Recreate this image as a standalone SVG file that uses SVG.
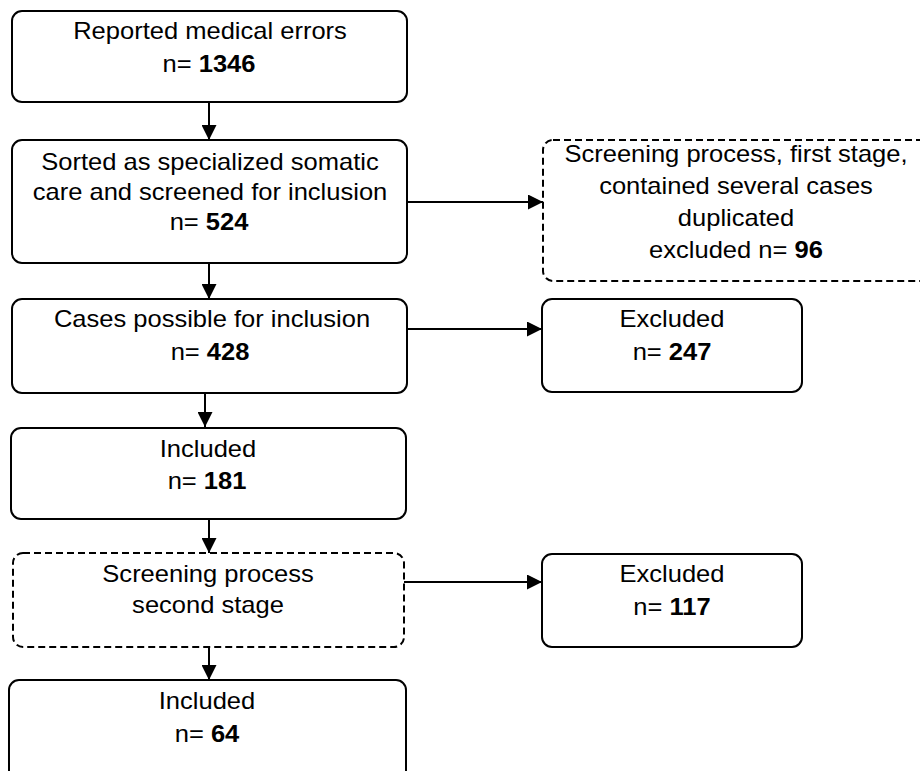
<svg xmlns="http://www.w3.org/2000/svg" width="920" height="771" viewBox="0 0 920 771">
<style>
.box{fill:#fff;stroke:#000;stroke-width:2}
.dash{fill:#fff;stroke:#000;stroke-width:2;stroke-dasharray:7 4}
.t{font-family:"Liberation Sans",Arial,sans-serif;font-size:23px;fill:#000;text-anchor:middle}
.b{font-weight:bold}
.con{stroke:#000;stroke-width:2;fill:none;marker-end:url(#ah)}
</style>
<defs>
<marker id="ah" viewBox="0 0 15 15" refX="15" refY="7.5" markerWidth="15" markerHeight="15" markerUnits="userSpaceOnUse" orient="auto">
<path d="M0,0 L15,7.5 L0,15 Z" fill="#000"/>
</marker>
</defs>
<rect width="920" height="771" fill="#fff"/>
<g id="connectors">
<line class="con" x1="209" y1="102" x2="209" y2="140"/>
<line class="con" x1="209" y1="263" x2="209" y2="299"/>
<line class="con" x1="205" y1="393" x2="205" y2="427"/>
<line class="con" x1="209" y1="519" x2="209" y2="553"/>
<line class="con" x1="209" y1="647" x2="209" y2="680"/>
<line class="con" x1="407" y1="202" x2="543" y2="202"/>
<line class="con" x1="407" y1="329" x2="542" y2="329"/>
<line class="con" x1="404" y1="582" x2="542" y2="582"/>
</g>
<g id="n1">
<rect class="box" x="12" y="11" width="395" height="91" rx="10"/>
<text class="t" transform="translate(210 39) scale(1.11 1)">Reported medical errors</text>
<text class="t" transform="translate(209 72) scale(1.11 1)">n= <tspan class="b">1346</tspan></text>
</g>
<g id="n2">
<rect class="box" x="12" y="140" width="395" height="123" rx="10"/>
<text class="t" transform="translate(210 170) scale(1.11 1)">Sorted as specialized somatic</text>
<text class="t" transform="translate(210 200) scale(1.11 1)">care and screened for inclusion</text>
<text class="t" transform="translate(209 230) scale(1.11 1)">n= <tspan class="b">524</tspan></text>
</g>
<g id="nA">
<rect class="dash" x="543" y="140" width="400" height="141" rx="10"/>
<text class="t" transform="translate(736 162) scale(1.11 1)">Screening process, first stage,</text>
<text class="t" transform="translate(736 194) scale(1.11 1)">contained several cases</text>
<text class="t" transform="translate(736 226) scale(1.11 1)">duplicated</text>
<text class="t" transform="translate(736 258) scale(1.11 1)">excluded n= <tspan class="b">96</tspan></text>
</g>
<g id="n3">
<rect class="box" x="12" y="299" width="395" height="94" rx="10"/>
<text class="t" transform="translate(212 327) scale(1.11 1)">Cases possible for inclusion</text>
<text class="t" transform="translate(210 360) scale(1.11 1)">n= <tspan class="b">428</tspan></text>
</g>
<g id="nB">
<rect class="box" x="542" y="299" width="260" height="93" rx="10"/>
<text class="t" transform="translate(672 327) scale(1.11 1)">Excluded</text>
<text class="t" transform="translate(672 360) scale(1.11 1)">n= <tspan class="b">247</tspan></text>
</g>
<g id="n4">
<rect class="box" x="11" y="428" width="395" height="91" rx="10"/>
<text class="t" transform="translate(208 457) scale(1.11 1)">Included</text>
<text class="t" transform="translate(207 489) scale(1.11 1)">n= <tspan class="b">181</tspan></text>
</g>
<g id="n5">
<rect class="dash" x="13" y="553" width="391" height="94" rx="10"/>
<text class="t" transform="translate(208 582) scale(1.11 1)">Screening process</text>
<text class="t" transform="translate(208 613) scale(1.11 1)">second stage</text>
</g>
<g id="nC">
<rect class="box" x="542" y="554" width="260" height="93" rx="10"/>
<text class="t" transform="translate(672 582) scale(1.11 1)">Excluded</text>
<text class="t" transform="translate(672 615) scale(1.11 1)">n= <tspan class="b">117</tspan></text>
</g>
<g id="n6">
<rect class="box" x="9" y="680" width="397" height="110" rx="10"/>
<text class="t" transform="translate(207 709) scale(1.11 1)">Included</text>
<text class="t" transform="translate(207 742) scale(1.11 1)">n= <tspan class="b">64</tspan></text>
</g>
</svg>
